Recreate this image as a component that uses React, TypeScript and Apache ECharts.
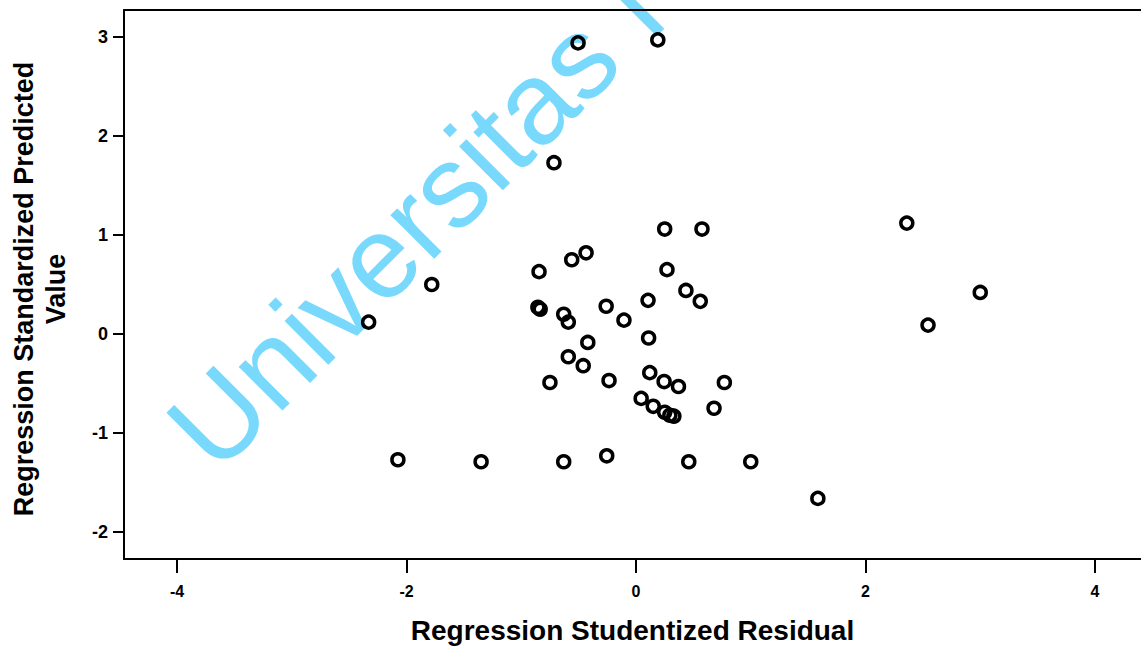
import React, { useEffect, useRef } from "react";
import * as echarts from "echarts";

const residuals = [
  -0.505, 0.19, -0.715, 2.36, 0.25, 0.575, -0.435, -0.56, -0.845, 0.27,
  -1.78, 0.435, 0.56, 0.105, 3.0, -0.26, -0.855, -0.835, -0.63, -0.59,
  -0.105, -2.33, 2.545, 0.11, -0.42, -0.59, -0.46, 0.12, -0.235, -0.75,
  0.245, 0.37, 0.77, 0.045, 0.15, 0.25, 0.295, 0.33, 0.68, -2.075,
  -1.35, -0.63, -0.255, 0.46, 1.0, 1.585,
];
const predicted = [
  2.94, 2.97, 1.73, 1.12, 1.06, 1.06, 0.82, 0.75, 0.63, 0.65,
  0.5, 0.44, 0.33, 0.34, 0.42, 0.28, 0.27, 0.25, 0.2, 0.12,
  0.14, 0.12, 0.09, -0.04, -0.085, -0.23, -0.32, -0.39, -0.47, -0.49,
  -0.48, -0.53, -0.49, -0.65, -0.73, -0.79, -0.82, -0.83, -0.75, -1.27,
  -1.29, -1.29, -1.23, -1.29, -1.29, -1.66,
];
const xTicks = [-4, -2, 0, 2, 4];
const yTicks = [-2, -1, 0, 1, 2, 3];
const xTitle = "Regression Studentized Residual";
const yTitle = "Regression Standardized Predicted\nValue";
const watermark = "Universitas I";

const FONT = "'Liberation Sans', Arial, Helvetica, sans-serif";

export default function App() {
  const ref = useRef<HTMLDivElement>(null);
  useEffect(() => {
    if (!ref.current) return;
    const chart = echarts.init(ref.current, null, { renderer: "svg" });
    const data = residuals.map((x, i) => [x, predicted[i]]);
    chart.setOption({
      animation: false,
      backgroundColor: "#ffffff",
      grid: { left: 124, top: 10, right: 0, bottom: 89, containLabel: false },
      xAxis: [
        {
          type: "value",
          position: "bottom",
          min: -4.462,
          max: 4.401,
          splitLine: { show: false },
          axisLine: { show: true, onZero: false, lineStyle: { color: "#000", width: 2 } },
          axisTick: { show: true, customValues: xTicks, length: 14, lineStyle: { color: "#000", width: 2 } },
          axisLabel: {
            customValues: xTicks,
            margin: 24,
            color: "#000",
            fontFamily: FONT,
            fontSize: 16,
            fontWeight: "bold",
          },
          name: xTitle,
          nameLocation: "middle",
          nameGap: 57,
          nameTextStyle: { color: "#000", fontFamily: FONT, fontSize: 28, fontWeight: "bold" },
        },
        {
          type: "value",
          position: "top",
          min: -4.462,
          max: 4.401,
          splitLine: { show: false },
          axisLine: { show: true, onZero: false, lineStyle: { color: "#000", width: 2 } },
          axisTick: { show: false },
          axisLabel: { show: false },
        },
      ],
      yAxis: {
        type: "value",
        min: -2.272,
        max: 3.272,
        splitLine: { show: false },
        axisLine: { show: true, onZero: false, lineStyle: { color: "#000", width: 2 } },
        axisTick: { show: true, customValues: yTicks, length: 11, lineStyle: { color: "#000", width: 2 } },
        axisLabel: {
          customValues: yTicks,
          margin: 16,
          color: "#000",
          fontFamily: FONT,
          fontSize: 18,
          fontWeight: "bold",
        },
      },
      graphic: [
        {
          type: "text",
          x: 147,
          y: 406,
          rotation: Math.PI / 4,
          z: 0,
          silent: true,
          style: {
            text: watermark,
            fill: "#78d9fc",
            font: `117px ${FONT}`,
            textAlign: "left",
            textVerticalAlign: "top",
          },
        },
        {
          type: "text",
          x: 40,
          y: 289,
          rotation: Math.PI / 2,
          z: 10,
          style: {
            text: yTitle,
            fill: "#000",
            font: `bold 27px ${FONT}`,
            textAlign: "center",
            textVerticalAlign: "middle",
            lineHeight: 32,
          },
        },
      ],
      series: [
        {
          type: "scatter",
          xAxisIndex: 0,
          data,
          z: 5,
          symbol: "circle",
          symbolSize: 12,
          itemStyle: { color: "rgba(0,0,0,0)", borderColor: "#000", borderWidth: 3.5, opacity: 1 },
        },
      ],
    });
    return () => chart.dispose();
  }, []);
  return (
    <div
      ref={ref}
      style={{ position: "fixed", left: 0, top: 0, width: 1141, height: 649, background: "#fff" }}
    />
  );
}
